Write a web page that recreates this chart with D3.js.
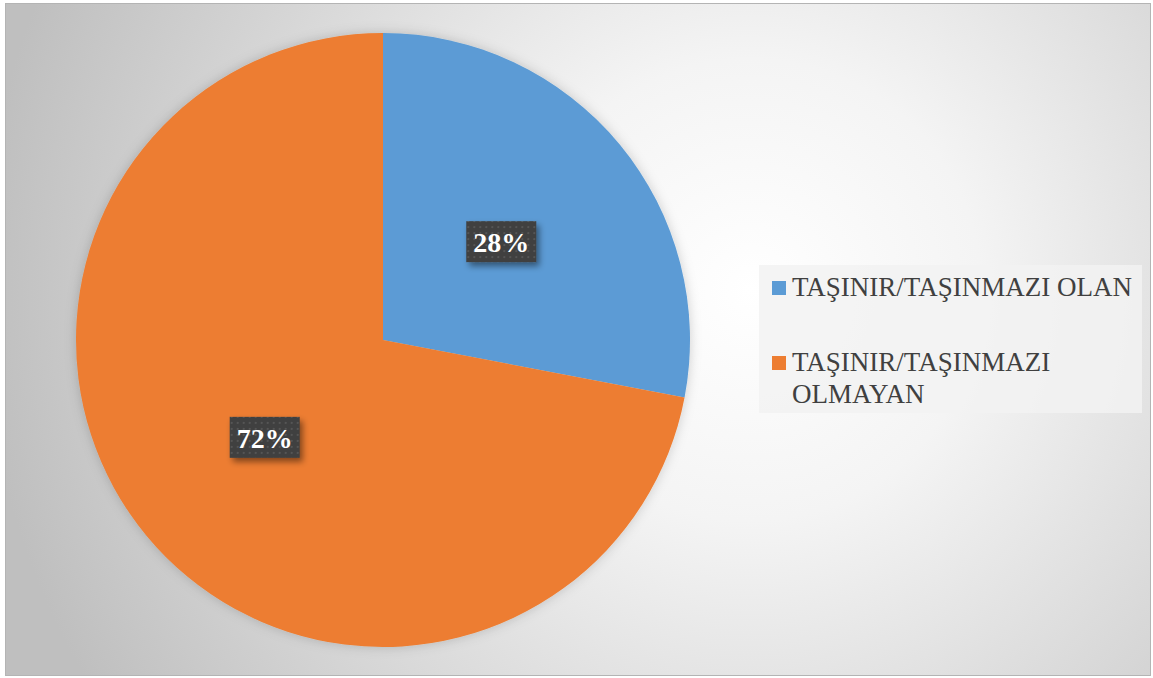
<!DOCTYPE html>
<html>
<head>
<meta charset="utf-8">
<script src="https://cdn.jsdelivr.net/npm/d3@7"></script>
<style>
  html, body { margin: 0; padding: 0; background: #fff; }
  svg { display: block; }
</style>
</head>
<body>
<div id="chart"></div>
<script>
// data
const categories = ["TAŞINIR/TAŞINMAZI OLAN", "TAŞINIR/TAŞINMAZI OLMAYAN"];
const values = [28, 72];
const colors = ["#5B9BD5", "#ED7D31"];

const width = 1153;
const height = 678;
const serif = '"Liberation Serif", "Times New Roman", serif';

const svg = d3.select("#chart")
  .append("svg")
  .attr("width", width)
  .attr("height", height);

const defs = svg.append("defs");

// background gradient
const bg = defs.append("radialGradient")
  .attr("id", "bg")
  .attr("gradientUnits", "userSpaceOnUse")
  .attr("cx", 750).attr("cy", 290).attr("r", 770);
bg.append("stop").attr("offset", "0%").attr("stop-color", "#ffffff");
bg.append("stop").attr("offset", "30%").attr("stop-color", "#f4f4f4");
bg.append("stop").attr("offset", "100%").attr("stop-color", "#bfbfbf");

// dotted label fill
const pat = defs.append("pattern")
  .attr("id", "dots")
  .attr("patternUnits", "userSpaceOnUse")
  .attr("width", 6).attr("height", 6);
pat.append("rect").attr("width", 6).attr("height", 6).attr("fill", "#3f3f3f");
pat.append("rect").attr("x", 2).attr("y", 2).attr("width", 2).attr("height", 2).attr("fill", "#555555");

// shadows
const sh = defs.append("filter").attr("id", "shadow")
  .attr("x", "-30%").attr("y", "-30%").attr("width", "160%").attr("height", "160%");
sh.append("feDropShadow")
  .attr("dx", 3).attr("dy", 4).attr("stdDeviation", 3)
  .attr("flood-color", "#000").attr("flood-opacity", 0.45);

const pieSh = defs.append("filter").attr("id", "pieShadow")
  .attr("x", "-10%").attr("y", "-10%").attr("width", "120%").attr("height", "120%");
pieSh.append("feDropShadow")
  .attr("dx", 0).attr("dy", 0).attr("stdDeviation", 6)
  .attr("flood-color", "#000").attr("flood-opacity", 0.18);

// chart area
svg.append("rect")
  .attr("x", 5.5).attr("y", 3.5)
  .attr("width", 1145).attr("height", 672)
  .attr("fill", "url(#bg)")
  .attr("stroke", "#b4b4b4")
  .attr("stroke-width", 1);

// pie
const cx = 383, cy = 340, radius = 307;
const pie = d3.pie().sort(null).value(d => d);
const arcs = pie(values);
const arc = d3.arc().innerRadius(0).outerRadius(radius);
const labelArc = d3.arc().innerRadius(radius * 0.5).outerRadius(radius * 0.5);

const g = svg.append("g").attr("transform", `translate(${cx},${cy})`);

g.append("g")
  .attr("filter", "url(#pieShadow)")
  .selectAll("path")
  .data(arcs)
  .enter()
  .append("path")
  .attr("d", arc)
  .attr("fill", (d, i) => colors[i]);

// data labels
const total = d3.sum(values);
const labels = g.selectAll(".lbl")
  .data(arcs)
  .enter()
  .append("g")
  .attr("class", "lbl")
  .attr("transform", d => `translate(${labelArc.centroid(d)})`);

labels.append("rect")
  .attr("x", -35).attr("y", -21)
  .attr("width", 70).attr("height", 41)
  .attr("fill", "url(#dots)")
  .attr("filter", "url(#shadow)");

labels.append("text")
  .attr("text-anchor", "middle")
  .attr("y", 10)
  .style("font-family", serif)
  .style("font-weight", "bold")
  .style("font-size", "28px")
  .attr("fill", "#ffffff")
  .text(d => Math.round(d.data / total * 100) + "%");

// legend
const legend = svg.append("g");
legend.append("rect")
  .attr("x", 759).attr("y", 265)
  .attr("width", 383).attr("height", 148)
  .attr("fill", "#f2f2f2")
  .attr("fill-opacity", 0.85);

const legendRows = [
  { y: 296, lines: ["TAŞINIR/TAŞINMAZI OLAN"] },
  { y: 371, lines: ["TAŞINIR/TAŞINMAZI", "OLMAYAN"] }
];

legendRows.forEach((row, i) => {
  legend.append("rect")
    .attr("x", 772).attr("y", row.y - 15)
    .attr("width", 14).attr("height", 14)
    .attr("fill", colors[i]);
  const t = legend.append("text")
    .style("font-family", serif)
    .style("font-size", "27px")
    .attr("fill", "#404040");
  row.lines.forEach((line, j) => {
    t.append("tspan")
      .attr("x", 792)
      .attr("y", row.y + j * 32)
      .text(line);
  });
});
</script>
</body>
</html>
